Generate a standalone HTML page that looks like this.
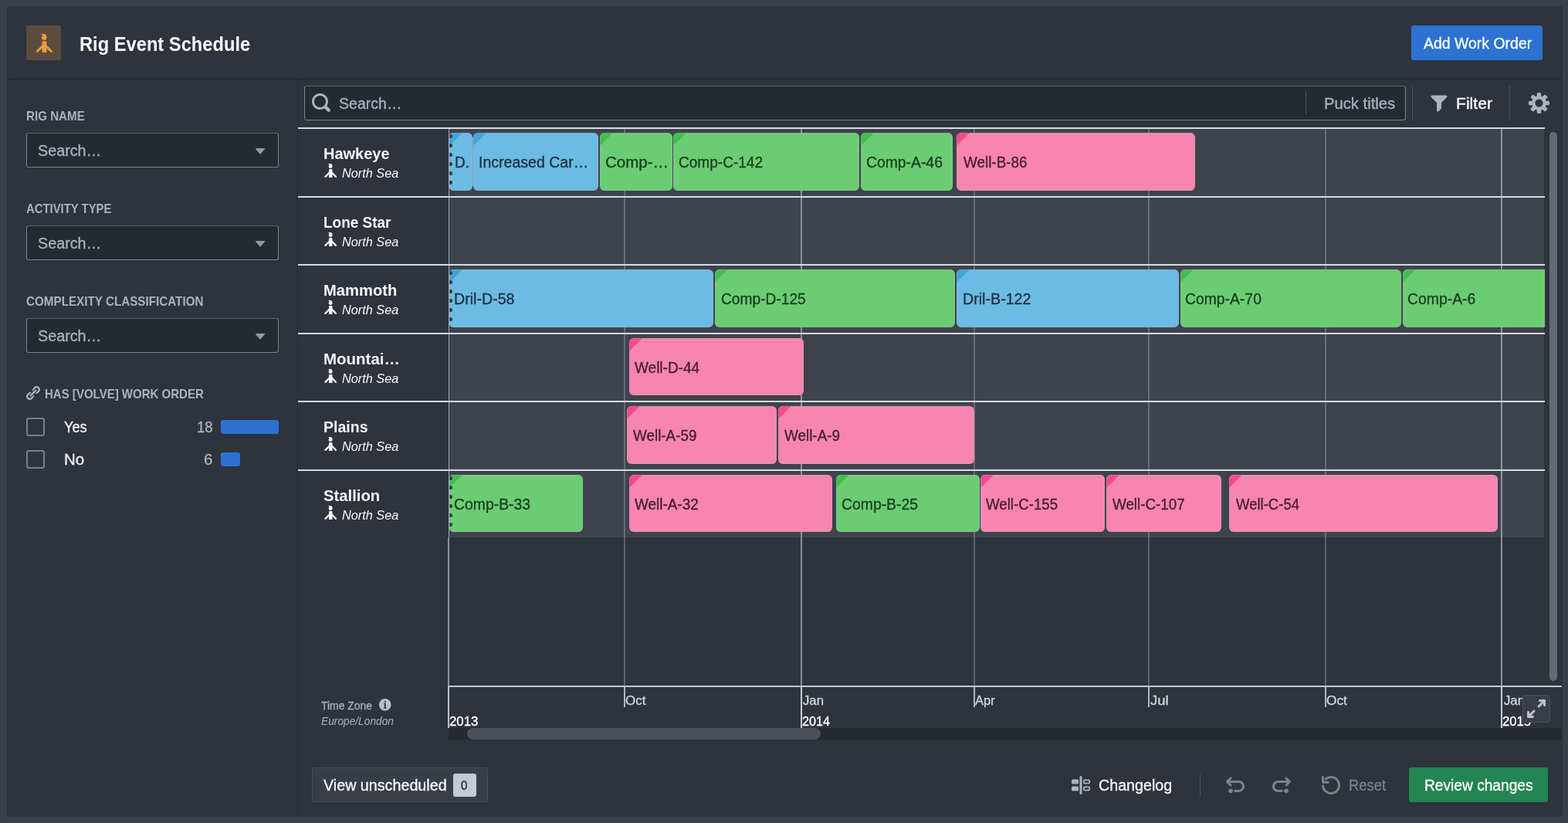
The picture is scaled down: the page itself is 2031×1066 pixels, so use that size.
<!DOCTYPE html>
<html lang="en"><head><meta charset="utf-8"><title>Rig Event Schedule</title>
<style>
html,body{margin:0;padding:0}
body{width:2031px;height:1066px;overflow:hidden;background:#3b3f4a;font-family:"Liberation Sans", sans-serif;position:relative}
#app div,#app span,#app svg{position:absolute;box-sizing:border-box}
#app header,#app aside,#app main,#app footer,#app section{position:absolute;left:0;top:0;width:0;height:0;display:block}
#app svg{overflow:visible}
#app{position:absolute;left:0;top:0;width:2031px;height:1066px;overflow:hidden}
.t{white-space:pre;transform-origin:0 0;display:block}
</style></head>
<body><div id="app">
<div style="left:10px;top:9px;width:2013px;height:1048px;background:#2e333c;border-radius:3px;box-shadow:0 0 0 1px rgba(20,23,28,.35)"></div>
<header aria-label="Page header">
<div style="left:34px;top:33px;width:45px;height:45px;background:#5b4c3e;border-radius:3px"></div>
<svg style="left:44.5px;top:44px;color:#ec9a3c;" width="24" height="24" viewBox="0 0 16 16" fill="#ec9a3c"><path d="M5.1 0h2.900c1.400 0 2.300 1.200 2.300 2.800 0 1.400-.9 2.500-2.200 2.500S5.900 4.300 5.900 3.100c0-.4.100-.7.300-1l.700-.200c.200-.500-.500-1.200-1.800-1.900z"/><path d="M6.300 7a.8.8 0 01.8-.8h2.300a.8.8 0 01.8.8v9H6.300z"/><path d="M6.700 10.500L2.200 15M9.800 10.500l4.400 4.500" stroke="currentColor" stroke-width="2" stroke-linecap="round" fill="none"/></svg>
<span class="t" style="left:103.10px;top:45.00px;font-size:25px;line-height:25px;color:#f6f7f9;font-weight:700;transform:scaleX(0.9476);">Rig Event Schedule</span>
<div style="left:1828px;top:33px;width:170px;height:45px;background:#2d72d2;border-radius:3px"></div>
<span class="t" style="left:1843.50px;top:47.00px;font-size:19.5px;line-height:19.5px;color:#ffffff;-webkit-text-stroke:.3px;transform:scaleX(0.9979);">Add Work Order</span>
</header>
<div style="left:10px;top:102px;width:2013px;height:1px;background:#242830;"></div>
<div style="left:10px;top:101px;width:2013px;height:1px;background:#2b3038;"></div>
<div style="left:385px;top:103px;width:1px;height:954px;background:#262a32;"></div>
<aside aria-label="Filters">
<span class="t" style="left:33.59px;top:143.20px;font-size:16.6px;line-height:16.6px;color:#abb3bf;font-weight:700;transform:scaleX(0.9134);">RIG NAME</span>
<div style="left:34px;top:172px;width:327px;height:45px;background:#252a31;border:1px solid #7d8390;border-top-color:#5c616d;border-radius:3px"></div>
<span class="t" style="left:48.99px;top:186.00px;font-size:19.5px;line-height:19.5px;color:#abb3bf;-webkit-text-stroke:.3px;transform:scaleX(1.0128);">Search…</span>
<svg style="left:325px;top:182.6px;color:#8f99a8;" width="24" height="24" viewBox="0 0 16 16" fill="#8f99a8"><path d="M12 6.5c0-.28-.22-.5-.5-.5h-7a.495.495 0 00-.37.83l3.5 4c.09.1.22.17.37.17s.28-.07.37-.17l3.5-4c.08-.09.13-.2.13-.33z"/></svg>
<span class="t" style="left:34.00px;top:263.20px;font-size:16.6px;line-height:16.6px;color:#abb3bf;font-weight:700;transform:scaleX(0.8959);">ACTIVITY TYPE</span>
<div style="left:34px;top:292px;width:327px;height:45px;background:#252a31;border:1px solid #7d8390;border-top-color:#5c616d;border-radius:3px"></div>
<span class="t" style="left:48.99px;top:306.00px;font-size:19.5px;line-height:19.5px;color:#abb3bf;-webkit-text-stroke:.3px;transform:scaleX(1.0128);">Search…</span>
<svg style="left:325px;top:302.6px;color:#8f99a8;" width="24" height="24" viewBox="0 0 16 16" fill="#8f99a8"><path d="M12 6.5c0-.28-.22-.5-.5-.5h-7a.495.495 0 00-.37.83l3.5 4c.09.1.22.17.37.17s.28-.07.37-.17l3.5-4c.08-.09.13-.2.13-.33z"/></svg>
<span class="t" style="left:33.58px;top:383.20px;font-size:16.6px;line-height:16.6px;color:#abb3bf;font-weight:700;transform:scaleX(0.9173);">COMPLEXITY CLASSIFICATION</span>
<div style="left:34px;top:412px;width:327px;height:45px;background:#252a31;border:1px solid #7d8390;border-top-color:#5c616d;border-radius:3px"></div>
<span class="t" style="left:48.99px;top:426.00px;font-size:19.5px;line-height:19.5px;color:#abb3bf;-webkit-text-stroke:.3px;transform:scaleX(1.0128);">Search…</span>
<svg style="left:325px;top:422.6px;color:#8f99a8;" width="24" height="24" viewBox="0 0 16 16" fill="#8f99a8"><path d="M12 6.5c0-.28-.22-.5-.5-.5h-7a.495.495 0 00-.37.83l3.5 4c.09.1.22.17.37.17s.28-.07.37-.17l3.5-4c.08-.09.13-.2.13-.33z"/></svg>
<svg style="left:34px;top:500px;color:#abb3bf;" width="18" height="18" viewBox="0 0 16 16" fill="#abb3bf"><path d="M4.99 11.99c.28 0 .53-.11.71-.29l6-6a1.003 1.003 0 00-1.42-1.42l-6 6a1.003 1.003 0 00.71 1.71zm3.85-2.02L6.4 12.41l-1 1-.01-.01c-.36.36-.85.6-1.4.6-1.1 0-2-.9-2-2 0-.55.24-1.04.6-1.4l-.01-.01 1-1 2.44-2.44c-.33-.1-.67-.16-1.03-.16-1.1 0-2.09.46-2.81 1.19l-.02-.02-1 1 .02.02c-.73.72-1.19 1.71-1.19 2.81 0 2.21 1.79 4 4 4 1.1 0 2.09-.46 2.81-1.19l.02.02 1-1-.02-.02c.73-.72 1.19-1.71 1.19-2.81 0-.36-.06-.7-.15-1.03zm7.15-5.98c0-2.21-1.79-4-4-4-1.1 0-2.09.46-2.81 1.19l-.02-.02-1 1 .02.02c-.72.72-1.19 1.71-1.19 2.81 0 .36.06.69.15 1.02l2.44-2.44 1-1 .01.01c.36-.36.85-.6 1.4-.6 1.1 0 2 .9 2 2 0 .55-.24 1.04-.6 1.4l.01.01-1 1-2.44 2.44c.33.09.67.15 1.03.15 1.1 0 2.09-.46 2.81-1.19l.02.02 1-1-.02-.02a3.92 3.92 0 001.19-2.8z"/></svg>
<span class="t" style="left:57.60px;top:503.20px;font-size:16.6px;line-height:16.6px;color:#abb3bf;font-weight:700;transform:scaleX(0.9049);">HAS [VOLVE] WORK ORDER</span>
<div style="left:34px;top:541px;width:24px;height:24px;background:transparent;border:2px solid #7a7f89;border-radius:3px"></div>
<span class="t" style="left:83.07px;top:544.00px;font-size:19.5px;line-height:19.5px;color:#f6f7f9;-webkit-text-stroke:.3px;transform:scaleX(0.9333);">Yes</span>
<span class="t" style="left:254.85px;top:544.00px;font-size:19.5px;line-height:19.5px;color:#abb3bf;-webkit-text-stroke:.3px;transform:scaleX(0.9550);">18</span>
<div style="left:286px;top:544px;width:75px;height:18px;background:#2d72d2;border-radius:3px"></div>
<div style="left:34px;top:583px;width:24px;height:24px;background:transparent;border:2px solid #7a7f89;border-radius:3px"></div>
<span class="t" style="left:82.96px;top:586.00px;font-size:19.5px;line-height:19.5px;color:#f6f7f9;-webkit-text-stroke:.3px;transform:scaleX(1.0435);">No</span>
<span class="t" style="left:264.34px;top:586.00px;font-size:19.5px;line-height:19.5px;color:#abb3bf;-webkit-text-stroke:.3px;transform:scaleX(1.0556);">6</span>
<div style="left:286px;top:586px;width:25px;height:18px;background:#2d72d2;border-radius:3px"></div>
</aside>
<main aria-label="Rig schedule">
<section aria-label="Toolbar">
<div style="left:394px;top:111px;width:1427px;height:45px;background:#252a31;border:1px solid #7d8390;border-top-color:#5c616d;border-radius:3px"></div>
<svg style="left:404px;top:121px;color:#abb3bf;" width="24" height="24" viewBox="0 0 16 16" fill="#abb3bf"><path d="M15.55 13.43l-2.67-2.68a6.94 6.94 0 001.11-3.76c0-3.87-3.13-7-7-7s-7 3.13-7 7 3.13 7 7 7c1.39 0 2.68-.42 3.76-1.11l2.68 2.67a1.498 1.498 0 102.12-2.12zm-8.56-1.44c-2.76 0-5-2.24-5-5s2.24-5 5-5 5 2.24 5 5-2.24 5-5 5z"/></svg>
<span class="t" style="left:438.80px;top:125.00px;font-size:19.5px;line-height:19.5px;color:#abb3bf;-webkit-text-stroke:.3px;transform:scaleX(1.0026);">Search…</span>
<div style="left:1691px;top:118px;width:1px;height:30px;background:#4a505c;"></div>
<span class="t" style="left:1714.66px;top:125.20px;font-size:19.5px;line-height:19.5px;color:#abb3bf;-webkit-text-stroke:.3px;transform:scaleX(1.0379);">Puck titles</span>
<div style="left:1829px;top:111px;width:1px;height:46px;background:#4a505c;"></div>
<svg style="left:1852px;top:122px;color:#abb3bf;" width="24" height="24" viewBox="0 0 16 16" fill="#abb3bf"><path d="M13.99.99h-12a1.003 1.003 0 00-.71 1.71l4.71 4.71V14a1.003 1.003 0 001.71.71l2-2c.18-.18.29-.43.29-.71V7.41L14.7 2.7a1.003 1.003 0 00-.71-1.71z"/></svg>
<span class="t" style="left:1885.92px;top:125.20px;font-size:19.5px;line-height:19.5px;color:#ffffff;-webkit-text-stroke:.3px;transform:scaleX(1.0833);">Filter</span>
<div style="left:1955px;top:111px;width:1px;height:46px;background:#4a505c;"></div>
<svg style="left:1980px;top:120px;color:#abb3bf;" width="27" height="27" viewBox="0 0 16 16" fill="#abb3bf"><path d="M15.19 6.39h-1.85c-.11-.37-.27-.71-.45-1.04l1.36-1.36c.31-.31.31-.82 0-1.13l-1.13-1.13a.803.803 0 00-1.13 0l-1.36 1.36c-.33-.17-.67-.33-1.04-.44V.79c0-.44-.36-.8-.8-.8h-1.6c-.44 0-.8.36-.8.8v1.86c-.39.12-.75.28-1.1.47l-1.3-1.3c-.3-.3-.79-.3-1.09 0L1.82 2.91c-.3.3-.3.79 0 1.09l1.3 1.3c-.2.34-.36.7-.48 1.09H.79c-.44 0-.8.36-.8.8v1.6c0 .44.36.8.8.8h1.85c.11.37.27.71.45 1.04l-1.36 1.36c-.31.31-.31.82 0 1.13l1.13 1.13c.31.31.82.31 1.13 0l1.36-1.36c.33.18.67.33 1.04.44v1.86c0 .44.36.8.8.8h1.6c.44 0 .8-.36.8-.8v-1.86c.39-.12.75-.28 1.1-.47l1.3 1.3c.3.3.79.3 1.09 0l1.09-1.09c.3-.3.3-.79 0-1.09l-1.3-1.3c.19-.35.36-.71.48-1.1h1.85c.44 0 .8-.36.8-.8v-1.6a.816.816 0 00-.81-.79zm-7.2 4.6c-1.66 0-3-1.34-3-3s1.34-3 3-3 3 1.34 3 3-1.34 3-3 3z"/></svg>
</section>
<section aria-label="Gantt chart">
<div style="left:582px;top:167px;width:1418px;height:529px;background:#3f434c;"></div>
<div style="left:808px;top:167px;width:2px;height:529px;background:#666b78;"></div>
<div style="left:808px;top:696px;width:2px;height:192px;background:#5d626e;"></div>
<div style="left:1037px;top:167px;width:2px;height:529px;background:#8c939d;"></div>
<div style="left:1037px;top:696px;width:2px;height:192px;background:#8c919e;"></div>
<div style="left:1261px;top:167px;width:2px;height:529px;background:#666b78;"></div>
<div style="left:1261px;top:696px;width:2px;height:192px;background:#5d626e;"></div>
<div style="left:1487px;top:167px;width:2px;height:529px;background:#666b78;"></div>
<div style="left:1487px;top:696px;width:2px;height:192px;background:#5d626e;"></div>
<div style="left:1716px;top:167px;width:2px;height:529px;background:#666b78;"></div>
<div style="left:1716px;top:696px;width:2px;height:192px;background:#5d626e;"></div>
<div style="left:1944px;top:167px;width:2px;height:529px;background:#8c939d;"></div>
<div style="left:1944px;top:696px;width:2px;height:192px;background:#8c919e;"></div>
<div style="left:581px;top:167px;width:1px;height:529px;background:#a3a8b7;"></div>
<div style="left:580px;top:696px;width:2px;height:192px;background:#8c92a0;"></div>
<div style="left:580px;top:888px;width:2px;height:55px;background:#bcc1d0;"></div>
<div style="left:386px;top:165px;width:1615px;height:2px;background:#d6dae3;"></div>
<div style="left:386px;top:254px;width:1615px;height:2px;background:#d6dae3;"></div>
<div style="left:386px;top:342px;width:1615px;height:2px;background:#d6dae3;"></div>
<div style="left:386px;top:431px;width:1615px;height:2px;background:#d6dae3;"></div>
<div style="left:386px;top:519px;width:1615px;height:2px;background:#d6dae3;"></div>
<div style="left:386px;top:608px;width:1615px;height:2px;background:#d6dae3;"></div>
<span class="t" style="left:418.57px;top:190.40px;font-size:19.5px;line-height:19.5px;color:#f6f7f9;font-weight:700;transform:scaleX(1.0256);">Hawkeye</span>
<svg style="left:419px;top:212px;color:#f6f7f9;" width="18" height="18" viewBox="0 0 16 16" fill="#f6f7f9"><path d="M5.1 0h2.900c1.400 0 2.300 1.200 2.300 2.800 0 1.400-.9 2.500-2.200 2.500S5.900 4.300 5.900 3.100c0-.4.100-.7.300-1l.700-.200c.200-.500-.500-1.200-1.800-1.900z"/><path d="M6.300 7a.8.8 0 01.8-.8h2.300a.8.8 0 01.8.8v9H6.300z"/><path d="M6.700 10.500L2.200 15M9.800 10.500l4.400 4.500" stroke="currentColor" stroke-width="2" stroke-linecap="round" fill="none"/></svg>
<span class="t" style="left:443.40px;top:217.00px;font-size:16.6px;line-height:16.6px;color:#f6f7f9;font-style:italic;transform:scaleX(0.9811);">North Sea</span>
<span class="t" style="left:418.63px;top:279.40px;font-size:19.5px;line-height:19.5px;color:#f6f7f9;font-weight:700;transform:scaleX(0.9719);">Lone Star</span>
<svg style="left:419px;top:301px;color:#f6f7f9;" width="18" height="18" viewBox="0 0 16 16" fill="#f6f7f9"><path d="M5.1 0h2.900c1.400 0 2.300 1.200 2.300 2.800 0 1.400-.9 2.500-2.200 2.500S5.900 4.300 5.900 3.100c0-.4.100-.7.300-1l.700-.200c.200-.500-.500-1.200-1.800-1.900z"/><path d="M6.300 7a.8.8 0 01.8-.8h2.300a.8.8 0 01.8.8v9H6.300z"/><path d="M6.700 10.500L2.200 15M9.800 10.500l4.400 4.500" stroke="currentColor" stroke-width="2" stroke-linecap="round" fill="none"/></svg>
<span class="t" style="left:443.40px;top:306.00px;font-size:16.6px;line-height:16.6px;color:#f6f7f9;font-style:italic;transform:scaleX(0.9811);">North Sea</span>
<span class="t" style="left:418.56px;top:367.40px;font-size:19.5px;line-height:19.5px;color:#f6f7f9;font-weight:700;transform:scaleX(1.0356);">Mammoth</span>
<svg style="left:419px;top:389px;color:#f6f7f9;" width="18" height="18" viewBox="0 0 16 16" fill="#f6f7f9"><path d="M5.1 0h2.900c1.400 0 2.300 1.200 2.300 2.800 0 1.400-.9 2.500-2.200 2.500S5.900 4.300 5.900 3.100c0-.4.100-.7.300-1l.700-.200c.200-.500-.500-1.200-1.800-1.900z"/><path d="M6.300 7a.8.8 0 01.8-.8h2.300a.8.8 0 01.8.8v9H6.300z"/><path d="M6.700 10.500L2.200 15M9.800 10.500l4.400 4.500" stroke="currentColor" stroke-width="2" stroke-linecap="round" fill="none"/></svg>
<span class="t" style="left:443.40px;top:394.00px;font-size:16.6px;line-height:16.6px;color:#f6f7f9;font-style:italic;transform:scaleX(0.9811);">North Sea</span>
<span class="t" style="left:418.55px;top:456.40px;font-size:19.5px;line-height:19.5px;color:#f6f7f9;font-weight:700;transform:scaleX(1.0505);">Mountai…</span>
<svg style="left:419px;top:478px;color:#f6f7f9;" width="18" height="18" viewBox="0 0 16 16" fill="#f6f7f9"><path d="M5.1 0h2.900c1.400 0 2.300 1.200 2.300 2.800 0 1.400-.9 2.500-2.200 2.500S5.900 4.300 5.900 3.100c0-.4.100-.7.300-1l.700-.200c.200-.500-.500-1.200-1.800-1.900z"/><path d="M6.300 7a.8.8 0 01.8-.8h2.300a.8.8 0 01.8.8v9H6.300z"/><path d="M6.700 10.500L2.200 15M9.800 10.500l4.400 4.500" stroke="currentColor" stroke-width="2" stroke-linecap="round" fill="none"/></svg>
<span class="t" style="left:443.40px;top:483.00px;font-size:16.6px;line-height:16.6px;color:#f6f7f9;font-style:italic;transform:scaleX(0.9811);">North Sea</span>
<span class="t" style="left:418.60px;top:544.40px;font-size:19.5px;line-height:19.5px;color:#f6f7f9;font-weight:700;transform:scaleX(1.0036);">Plains</span>
<svg style="left:419px;top:566px;color:#f6f7f9;" width="18" height="18" viewBox="0 0 16 16" fill="#f6f7f9"><path d="M5.1 0h2.900c1.400 0 2.300 1.200 2.300 2.800 0 1.400-.9 2.500-2.200 2.500S5.900 4.300 5.900 3.100c0-.4.100-.7.300-1l.700-.200c.200-.500-.500-1.200-1.800-1.900z"/><path d="M6.300 7a.8.8 0 01.8-.8h2.300a.8.8 0 01.8.8v9H6.300z"/><path d="M6.700 10.500L2.200 15M9.800 10.500l4.400 4.500" stroke="currentColor" stroke-width="2" stroke-linecap="round" fill="none"/></svg>
<span class="t" style="left:443.40px;top:571.00px;font-size:16.6px;line-height:16.6px;color:#f6f7f9;font-style:italic;transform:scaleX(0.9811);">North Sea</span>
<span class="t" style="left:418.56px;top:633.40px;font-size:19.5px;line-height:19.5px;color:#f6f7f9;font-weight:700;transform:scaleX(1.0397);">Stallion</span>
<svg style="left:419px;top:655px;color:#f6f7f9;" width="18" height="18" viewBox="0 0 16 16" fill="#f6f7f9"><path d="M5.1 0h2.900c1.400 0 2.300 1.200 2.300 2.800 0 1.400-.9 2.500-2.200 2.500S5.900 4.300 5.900 3.100c0-.4.100-.7.300-1l.700-.200c.200-.500-.500-1.200-1.800-1.900z"/><path d="M6.300 7a.8.8 0 01.8-.8h2.300a.8.8 0 01.8.8v9H6.300z"/><path d="M6.700 10.500L2.200 15M9.800 10.500l4.400 4.500" stroke="currentColor" stroke-width="2" stroke-linecap="round" fill="none"/></svg>
<span class="t" style="left:443.40px;top:660.00px;font-size:16.6px;line-height:16.6px;color:#f6f7f9;font-style:italic;transform:scaleX(0.9811);">North Sea</span>
<div style="left:582px;top:172px;width:30.0px;height:75px;background:#6cbbe3;border-radius:5px 6px 6px 5px;overflow:hidden"><div style="left:0;top:0;width:0;height:0;border-top:17px solid #3fa6da;border-right:17px solid transparent"></div><div style="left:-2px;top:1.5px;width:6px;height:5px;border-radius:2.5px;background:#2a3a40"></div><div style="left:-2px;top:13.7px;width:6px;height:5px;border-radius:2.5px;background:#2a3a40"></div><div style="left:-2px;top:25.8px;width:6px;height:5px;border-radius:2.5px;background:#2a3a40"></div><div style="left:-2px;top:38.0px;width:6px;height:5px;border-radius:2.5px;background:#2a3a40"></div><div style="left:-2px;top:50.1px;width:6px;height:5px;border-radius:2.5px;background:#2a3a40"></div><div style="left:-2px;top:62.2px;width:6px;height:5px;border-radius:2.5px;background:#2a3a40"></div><div style="left:0;top:0;right:0;bottom:0;border-radius:5px 6px 6px 5px;border:1px solid rgba(170,175,195,.4)"></div></div>
<span class="t" style="left:588.53px;top:201.20px;font-size:19.5px;line-height:19.5px;color:#1a2f3f;-webkit-text-stroke:.3px;transform:scaleX(0.9706);">D.</span>
<div style="left:613px;top:172px;width:162.0px;height:75px;background:#6cbbe3;border-radius:6px;overflow:hidden"><div style="left:0;top:0;width:0;height:0;border-top:17px solid #3fa6da;border-right:17px solid transparent"></div><div style="left:0;top:0;right:0;bottom:0;border-radius:6px;border:1px solid rgba(170,175,195,.4)"></div></div>
<span class="t" style="left:620.00px;top:201.20px;font-size:19.5px;line-height:19.5px;color:#1a2f3f;-webkit-text-stroke:.3px;transform:scaleX(1.0015);">Increased Car…</span>
<div style="left:612px;top:178px;width:1px;height:63px;background:#8d9bb9;"></div>
<div style="left:777px;top:172px;width:94.0px;height:75px;background:#6bcd72;border-radius:6px;overflow:hidden"><div style="left:0;top:0;width:0;height:0;border-top:17px solid #43bf4d;border-right:17px solid transparent"></div><div style="left:0;top:0;right:0;bottom:0;border-radius:6px;border:1px solid rgba(170,175,195,.4)"></div></div>
<span class="t" style="left:784.15px;top:201.20px;font-size:19.5px;line-height:19.5px;color:#173a1f;-webkit-text-stroke:.3px;transform:scaleX(1.0514);">Comp-…</span>
<div style="left:872px;top:172px;width:241.0px;height:75px;background:#6bcd72;border-radius:6px;overflow:hidden"><div style="left:0;top:0;width:0;height:0;border-top:17px solid #43bf4d;border-right:17px solid transparent"></div><div style="left:0;top:0;right:0;bottom:0;border-radius:6px;border:1px solid rgba(170,175,195,.4)"></div></div>
<span class="t" style="left:878.82px;top:201.20px;font-size:19.5px;line-height:19.5px;color:#173a1f;-webkit-text-stroke:.3px;transform:scaleX(0.9764);">Comp-C-142</span>
<div style="left:1115px;top:172px;width:119.0px;height:75px;background:#6bcd72;border-radius:6px;overflow:hidden"><div style="left:0;top:0;width:0;height:0;border-top:17px solid #43bf4d;border-right:17px solid transparent"></div><div style="left:0;top:0;right:0;bottom:0;border-radius:6px;border:1px solid rgba(170,175,195,.4)"></div></div>
<span class="t" style="left:1122.01px;top:201.20px;font-size:19.5px;line-height:19.5px;color:#173a1f;-webkit-text-stroke:.3px;transform:scaleX(0.9918);">Comp-A-46</span>
<div style="left:1239px;top:172px;width:309.0px;height:75px;background:#f885b0;border-radius:6px;overflow:hidden"><div style="left:0;top:0;width:0;height:0;border-top:17px solid #f5498b;border-right:17px solid transparent"></div><div style="left:0;top:0;right:0;bottom:0;border-radius:6px;border:1px solid rgba(170,175,195,.4)"></div></div>
<span class="t" style="left:1247.80px;top:201.20px;font-size:19.5px;line-height:19.5px;color:#421c30;-webkit-text-stroke:.3px;transform:scaleX(0.9682);">Well-B-86</span>
<div style="left:582px;top:349px;width:342.0px;height:75px;background:#6cbbe3;border-radius:5px 6px 6px 5px;overflow:hidden"><div style="left:0;top:0;width:0;height:0;border-top:17px solid #3fa6da;border-right:17px solid transparent"></div><div style="left:-2px;top:1.5px;width:6px;height:5px;border-radius:2.5px;background:#2a3a40"></div><div style="left:-2px;top:13.7px;width:6px;height:5px;border-radius:2.5px;background:#2a3a40"></div><div style="left:-2px;top:25.8px;width:6px;height:5px;border-radius:2.5px;background:#2a3a40"></div><div style="left:-2px;top:38.0px;width:6px;height:5px;border-radius:2.5px;background:#2a3a40"></div><div style="left:-2px;top:50.1px;width:6px;height:5px;border-radius:2.5px;background:#2a3a40"></div><div style="left:-2px;top:62.2px;width:6px;height:5px;border-radius:2.5px;background:#2a3a40"></div><div style="left:0;top:0;right:0;bottom:0;border-radius:5px 6px 6px 5px;border:1px solid rgba(170,175,195,.4)"></div></div>
<span class="t" style="left:588.19px;top:378.20px;font-size:19.5px;line-height:19.5px;color:#1a2f3f;-webkit-text-stroke:.3px;transform:scaleX(1.0066);">Dril-D-58</span>
<div style="left:926px;top:349px;width:311.0px;height:75px;background:#6bcd72;border-radius:6px;overflow:hidden"><div style="left:0;top:0;width:0;height:0;border-top:17px solid #43bf4d;border-right:17px solid transparent"></div><div style="left:0;top:0;right:0;bottom:0;border-radius:6px;border:1px solid rgba(170,175,195,.4)"></div></div>
<span class="t" style="left:933.62px;top:378.20px;font-size:19.5px;line-height:19.5px;color:#173a1f;-webkit-text-stroke:.3px;transform:scaleX(0.9836);">Comp-D-125</span>
<div style="left:1239px;top:349px;width:288.0px;height:75px;background:#6cbbe3;border-radius:6px;overflow:hidden"><div style="left:0;top:0;width:0;height:0;border-top:17px solid #3fa6da;border-right:17px solid transparent"></div><div style="left:0;top:0;right:0;bottom:0;border-radius:6px;border:1px solid rgba(170,175,195,.4)"></div></div>
<span class="t" style="left:1246.59px;top:378.20px;font-size:19.5px;line-height:19.5px;color:#1a2f3f;-webkit-text-stroke:.3px;transform:scaleX(1.0081);">Dril-B-122</span>
<div style="left:1529px;top:349px;width:286.0px;height:75px;background:#6bcd72;border-radius:6px;overflow:hidden"><div style="left:0;top:0;width:0;height:0;border-top:17px solid #43bf4d;border-right:17px solid transparent"></div><div style="left:0;top:0;right:0;bottom:0;border-radius:6px;border:1px solid rgba(170,175,195,.4)"></div></div>
<span class="t" style="left:1534.81px;top:378.20px;font-size:19.5px;line-height:19.5px;color:#173a1f;-webkit-text-stroke:.3px;transform:scaleX(0.9918);">Comp-A-70</span>
<div style="left:1817px;top:349px;width:184.0px;height:75px;background:#6bcd72;border-radius:6px 0 0 6px;overflow:hidden"><div style="left:0;top:0;width:0;height:0;border-top:17px solid #43bf4d;border-right:17px solid transparent"></div><div style="left:0;top:0;right:0;bottom:0;border-radius:6px 0 0 6px;border:1px solid rgba(170,175,195,.4)"></div></div>
<span class="t" style="left:1823.31px;top:378.20px;font-size:19.5px;line-height:19.5px;color:#173a1f;-webkit-text-stroke:.3px;transform:scaleX(0.9943);">Comp-A-6</span>
<div style="left:815px;top:438px;width:226.0px;height:74px;background:#f885b0;border-radius:6px;overflow:hidden"><div style="left:0;top:0;width:0;height:0;border-top:17px solid #f5498b;border-right:17px solid transparent"></div><div style="left:0;top:0;right:0;bottom:0;border-radius:6px;border:1px solid rgba(170,175,195,.4)"></div></div>
<span class="t" style="left:822.40px;top:467.20px;font-size:19.5px;line-height:19.5px;color:#421c30;-webkit-text-stroke:.3px;transform:scaleX(0.9733);">Well-D-44</span>
<div style="left:812px;top:526px;width:194.0px;height:75px;background:#f885b0;border-radius:6px;overflow:hidden"><div style="left:0;top:0;width:0;height:0;border-top:17px solid #f5498b;border-right:17px solid transparent"></div><div style="left:0;top:0;right:0;bottom:0;border-radius:6px;border:1px solid rgba(170,175,195,.4)"></div></div>
<span class="t" style="left:820.00px;top:555.20px;font-size:19.5px;line-height:19.5px;color:#421c30;-webkit-text-stroke:.3px;transform:scaleX(0.9671);">Well-A-59</span>
<div style="left:1008px;top:526px;width:254.0px;height:75px;background:#f885b0;border-radius:6px;overflow:hidden"><div style="left:0;top:0;width:0;height:0;border-top:17px solid #f5498b;border-right:17px solid transparent"></div><div style="left:0;top:0;right:0;bottom:0;border-radius:6px;border:1px solid rgba(170,175,195,.4)"></div></div>
<span class="t" style="left:1016.20px;top:555.20px;font-size:19.5px;line-height:19.5px;color:#421c30;-webkit-text-stroke:.3px;transform:scaleX(0.9676);">Well-A-9</span>
<div style="left:582px;top:615px;width:173.0px;height:74px;background:#6bcd72;border-radius:5px 6px 6px 5px;overflow:hidden"><div style="left:0;top:0;width:0;height:0;border-top:17px solid #43bf4d;border-right:17px solid transparent"></div><div style="left:-2px;top:1.5px;width:6px;height:5px;border-radius:2.5px;background:#2a3a40"></div><div style="left:-2px;top:13.7px;width:6px;height:5px;border-radius:2.5px;background:#2a3a40"></div><div style="left:-2px;top:25.8px;width:6px;height:5px;border-radius:2.5px;background:#2a3a40"></div><div style="left:-2px;top:38.0px;width:6px;height:5px;border-radius:2.5px;background:#2a3a40"></div><div style="left:-2px;top:50.1px;width:6px;height:5px;border-radius:2.5px;background:#2a3a40"></div><div style="left:-2px;top:62.2px;width:6px;height:5px;border-radius:2.5px;background:#2a3a40"></div><div style="left:0;top:0;right:0;bottom:0;border-radius:5px 6px 6px 5px;border:1px solid rgba(170,175,195,.4)"></div></div>
<span class="t" style="left:588.21px;top:644.20px;font-size:19.5px;line-height:19.5px;color:#173a1f;-webkit-text-stroke:.3px;transform:scaleX(0.9939);">Comp-B-33</span>
<div style="left:815px;top:615px;width:263.0px;height:74px;background:#f885b0;border-radius:6px;overflow:hidden"><div style="left:0;top:0;width:0;height:0;border-top:17px solid #f5498b;border-right:17px solid transparent"></div><div style="left:0;top:0;right:0;bottom:0;border-radius:6px;border:1px solid rgba(170,175,195,.4)"></div></div>
<span class="t" style="left:822.40px;top:644.20px;font-size:19.5px;line-height:19.5px;color:#421c30;-webkit-text-stroke:.3px;transform:scaleX(0.9726);">Well-A-32</span>
<div style="left:1083px;top:615px;width:186.0px;height:74px;background:#6bcd72;border-radius:6px;overflow:hidden"><div style="left:0;top:0;width:0;height:0;border-top:17px solid #43bf4d;border-right:17px solid transparent"></div><div style="left:0;top:0;right:0;bottom:0;border-radius:6px;border:1px solid rgba(170,175,195,.4)"></div></div>
<span class="t" style="left:1090.41px;top:644.20px;font-size:19.5px;line-height:19.5px;color:#173a1f;-webkit-text-stroke:.3px;transform:scaleX(0.9929);">Comp-B-25</span>
<div style="left:1270px;top:615px;width:161.0px;height:74px;background:#f885b0;border-radius:6px;overflow:hidden"><div style="left:0;top:0;width:0;height:0;border-top:17px solid #f5498b;border-right:17px solid transparent"></div><div style="left:0;top:0;right:0;bottom:0;border-radius:6px;border:1px solid rgba(170,175,195,.4)"></div></div>
<span class="t" style="left:1277.40px;top:644.20px;font-size:19.5px;line-height:19.5px;color:#421c30;-webkit-text-stroke:.3px;transform:scaleX(0.9583);">Well-C-155</span>
<div style="left:1433px;top:615px;width:149.0px;height:74px;background:#f885b0;border-radius:6px;overflow:hidden"><div style="left:0;top:0;width:0;height:0;border-top:17px solid #f5498b;border-right:17px solid transparent"></div><div style="left:0;top:0;right:0;bottom:0;border-radius:6px;border:1px solid rgba(170,175,195,.4)"></div></div>
<span class="t" style="left:1441.20px;top:644.20px;font-size:19.5px;line-height:19.5px;color:#421c30;-webkit-text-stroke:.3px;transform:scaleX(0.9635);">Well-C-107</span>
<div style="left:1592px;top:615px;width:348.0px;height:74px;background:#f885b0;border-radius:6px;overflow:hidden"><div style="left:0;top:0;width:0;height:0;border-top:17px solid #f5498b;border-right:17px solid transparent"></div><div style="left:0;top:0;right:0;bottom:0;border-radius:6px;border:1px solid rgba(170,175,195,.4)"></div></div>
<span class="t" style="left:1600.50px;top:644.20px;font-size:19.5px;line-height:19.5px;color:#421c30;-webkit-text-stroke:.3px;transform:scaleX(0.9500);">Well-C-54</span>
<div style="left:2007px;top:171px;width:10px;height:711px;background:#626979;border-radius:5px"></div>
</section>
<section aria-label="Time axis">
<div style="left:580px;top:888px;width:1443px;height:2px;background:#c4c8d2;"></div>
<span class="t" style="left:581.79px;top:926.70px;font-size:16.6px;line-height:16.6px;color:#ffffff;-webkit-text-stroke:.3px;transform:scaleX(1.0114);">2013</span>
<div style="left:808px;top:890px;width:2px;height:26px;background:#b1b6c2;"></div>
<span class="t" style="left:810.48px;top:900.00px;font-size:16.6px;line-height:16.6px;color:#d3d8de;-webkit-text-stroke:.3px;transform:scaleX(1.0200);">Oct</span>
<div style="left:1037px;top:890px;width:2px;height:53px;background:#c9cdd6;"></div>
<span class="t" style="left:1040.20px;top:900.00px;font-size:16.6px;line-height:16.6px;color:#d3d8de;-webkit-text-stroke:.3px;transform:scaleX(1.0077);">Jan</span>
<span class="t" style="left:1039.23px;top:926.70px;font-size:16.6px;line-height:16.6px;color:#ffffff;-webkit-text-stroke:.3px;transform:scaleX(0.9750);">2014</span>
<div style="left:1261px;top:890px;width:2px;height:26px;background:#b1b6c2;"></div>
<span class="t" style="left:1263.30px;top:900.00px;font-size:16.6px;line-height:16.6px;color:#d3d8de;-webkit-text-stroke:.3px;transform:scaleX(0.9962);">Apr</span>
<div style="left:1487px;top:890px;width:2px;height:26px;background:#b1b6c2;"></div>
<span class="t" style="left:1489.60px;top:900.00px;font-size:16.6px;line-height:16.6px;color:#d3d8de;-webkit-text-stroke:.3px;transform:scaleX(1.1100);">Jul</span>
<div style="left:1716px;top:890px;width:2px;height:26px;background:#b1b6c2;"></div>
<span class="t" style="left:1717.56px;top:900.00px;font-size:16.6px;line-height:16.6px;color:#d3d8de;-webkit-text-stroke:.3px;transform:scaleX(1.0400);">Oct</span>
<div style="left:1944px;top:890px;width:2px;height:53px;background:#c9cdd6;"></div>
<span class="t" style="left:1947.60px;top:900.00px;font-size:16.6px;line-height:16.6px;color:#d3d8de;-webkit-text-stroke:.3px;transform:scaleX(1.0077);">Jan</span>
<span class="t" style="left:1946.20px;top:926.70px;font-size:16.6px;line-height:16.6px;color:#ffffff;-webkit-text-stroke:.3px;transform:scaleX(1.0029);">2015</span>
<span class="t" style="left:416.40px;top:907.70px;font-size:13.8px;line-height:13.8px;color:#abb3bf;-webkit-text-stroke:.3px;transform:scaleX(1.0092);">Time Zone</span>
<svg style="left:490.6px;top:905px;color:#b9bec9;" width="15.6" height="15.6" viewBox="0 0 16 16" fill="#b9bec9"><path fill-rule="evenodd" d="M8 0C3.58 0 0 3.58 0 8s3.58 8 8 8 8-3.58 8-8-3.58-8-8-8zM7 3h2v2H7V3zm3 10H6v-1h1V7H6V6h3v6h1v1z"/></svg>
<span class="t" style="left:416.40px;top:928.30px;font-size:13.8px;line-height:13.8px;color:#abb3bf;font-style:italic;transform:scaleX(0.9957);">Europe/London</span>
<div style="left:581px;top:943px;width:1442px;height:15px;background:#252a31;"></div>
<div style="left:605px;top:943px;width:458px;height:15px;background:#4a4f59;border-radius:7.5px"></div>
<div style="left:1972px;top:900px;width:36px;height:36px;background:#383d48;border-radius:4px;border:1px solid #4b505c"></div>
<svg style="left:1978px;top:906px;color:#bcc1cc;" width="24" height="24" viewBox="0 0 16 16" fill="#bcc1cc"><path d="M5.99 8.99c-.28 0-.53.11-.71.29l-3.29 3.29v-1.59c0-.55-.45-1-1-1s-1 .45-1 1v4c0 .55.45 1 1 1h4c.55 0 1-.45 1-1s-.45-1-1-1H3.410L6.700 10.700a1.003 1.003 0 00-.71-1.710zm9-9h-4c-.55 0-1 .45-1 1s.45 1 1 1h1.590L9.290 5.290a1.003 1.003 0 001.420 1.420l3.290-3.290v1.590c0 .55.45 1 1 1s1-.45 1-1v-4c-.010-.560-.460-1.010-1.010-1.010z"/></svg>
</section>
</main>
<footer aria-label="Actions">
<div style="left:404px;top:994px;width:228px;height:45px;background:#383e47;border-radius:3px;border:1px solid #484e5a"></div>
<span class="t" style="left:418.80px;top:1008.00px;font-size:19.5px;line-height:19.5px;color:#f6f7f9;-webkit-text-stroke:.3px;transform:scaleX(1.0108);">View unscheduled</span>
<div style="left:587px;top:1002px;width:30px;height:30px;background:#c5cbd3;border-radius:3px"></div>
<span class="t" style="left:596.50px;top:1010.00px;font-size:16.6px;line-height:16.6px;color:#1c2127;-webkit-text-stroke:.3px;transform:scaleX(0.9000);">0</span>
<svg style="left:1388px;top:1005px;color:#abb3bf;" width="24" height="24" viewBox="0 0 16 16" fill="#abb3bf"><rect x="0" y="3" width="6" height="4" rx="1"/><rect x="0" y="9" width="6" height="4" rx="1"/><rect x="7" y="0" width="2" height="16" rx="1"/><rect x="10.600" y="3.600" width="4.800" height="2.800" rx=".7" fill="none" stroke="currentColor" stroke-width="1.200"/><rect x="10.600" y="9.600" width="4.800" height="2.800" rx=".7" fill="none" stroke="currentColor" stroke-width="1.200"/></svg>
<span class="t" style="left:1422.69px;top:1008.00px;font-size:19.5px;line-height:19.5px;color:#f6f7f9;-webkit-text-stroke:.3px;transform:scaleX(1.0098);">Changelog</span>
<div style="left:1554px;top:1002px;width:1px;height:30px;background:#4a505c;"></div>
<svg style="left:1588px;top:1005px;color:#7b8290;" width="24" height="24" viewBox="0 0 16 16" fill="#7b8290"><path d="M4 11c-1.1 0-2 .9-2 2s.9 2 2 2 2-.9 2-2-.9-2-2-2zm7-7H3.41l1.29-1.29c.19-.18.3-.43.3-.71a1.003 1.003 0 00-1.71-.71l-3 3C.11 4.470 0 4.720 0 5c0 .28.11.53.29.71l3 3a1.003 1.003 0 001.42-1.42L3.410 6H11c1.660 0 3 1.340 3 3s-1.340 3-3 3H7v2h4c2.760 0 5-2.240 5-5s-2.240-5-5-5z"/></svg>
<svg style="left:1648px;top:1005px;color:#7b8290;" width="24" height="24" viewBox="0 0 16 16" fill="#7b8290"><path d="M12 11c-1.1 0-2 .9-2 2s.9 2 2 2 2-.9 2-2-.9-2-2-2zm3.710-6.710l-3-3a1.003 1.003 0 00-1.420 1.420L12.590 4H5C2.240 4 0 6.240 0 9s2.240 5 5 5h4v-2H5c-1.660 0-3-1.340-3-3s1.340-3 3-3h7.590L11.300 7.290c-.19.18-.3.43-.3.71a1.003 1.003 0 001.710.71l3-3c.18-.18.29-.43.29-.71 0-.28-.11-.53-.29-.71z"/></svg>
<svg style="left:1712px;top:1005px;color:#7b8290;" width="24" height="24" viewBox="0 0 16 16" fill="#7b8290"><path d="M1.05 8.700A7 7 0 1 0 3.500 2.650" fill="none" stroke="currentColor" stroke-width="2" stroke-linecap="round"/><path d="M1 1v4.500h4.500" fill="none" stroke="currentColor" stroke-width="1.900" stroke-linecap="round" stroke-linejoin="round"/></svg>
<span class="t" style="left:1746.65px;top:1008.00px;font-size:19.5px;line-height:19.5px;color:#7b8290;-webkit-text-stroke:.3px;transform:scaleX(0.9460);">Reset</span>
<div style="left:1825px;top:994px;width:180px;height:45px;background:#238551;border-radius:3px"></div>
<span class="t" style="left:1845.12px;top:1008.00px;font-size:19.5px;line-height:19.5px;color:#ffffff;-webkit-text-stroke:.3px;transform:scaleX(0.9823);">Review changes</span>
</footer>
</div></body></html>
